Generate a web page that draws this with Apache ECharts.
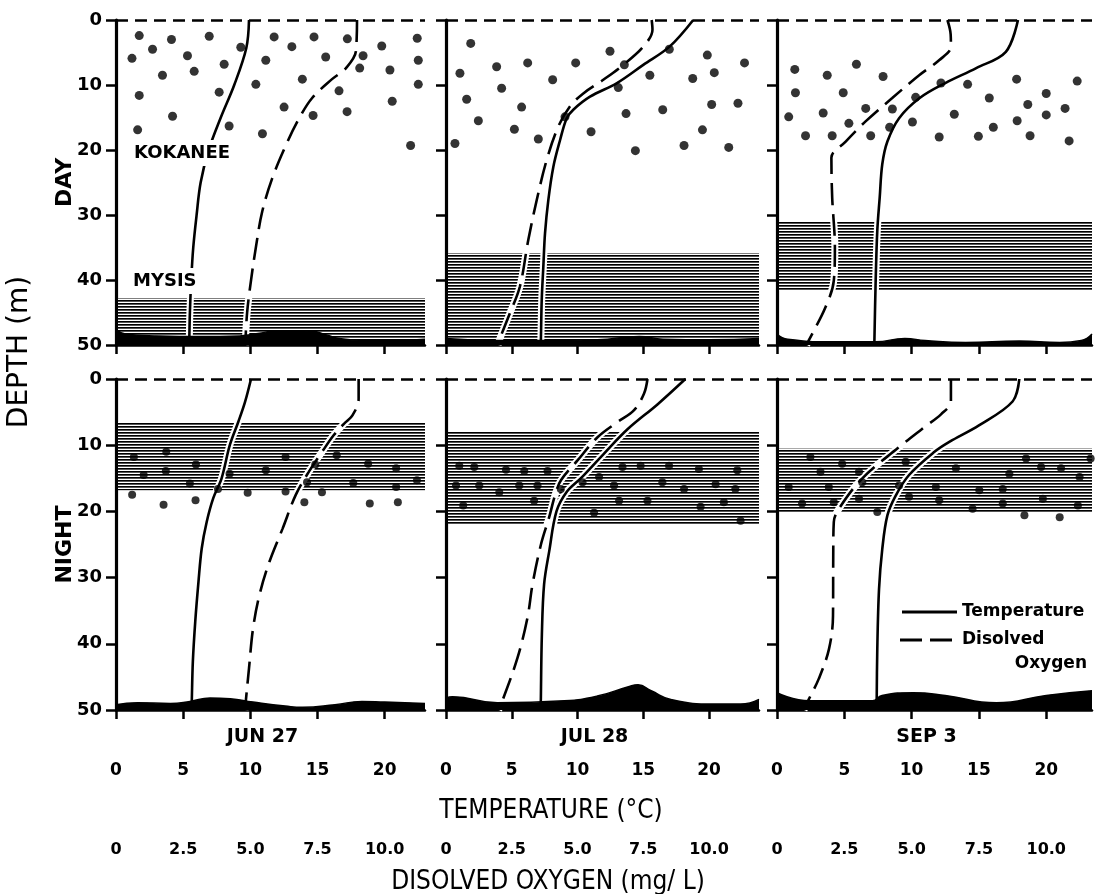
<!DOCTYPE html>
<html><head><meta charset="utf-8">
<script src="https://cdn.jsdelivr.net/npm/echarts@6/dist/echarts.min.js"></script>
<style>html,body{margin:0;padding:0;background:#fff}#c{width:1103px;height:894px}</style>
</head><body><div id="c"></div>
<script>
// ---------- tick labels / categories ----------
const tempTicks = [0, 5, 10, 15, 20];
const doTicks = [0, 2.5, 5, 7.5, 10];
const dateLabels = ['JUN 27', 'JUL 28', 'SEP 3'];
const rowLabels = ['DAY', 'NIGHT'];

// ---------- JUN 27 DAY ----------  [temperature or DO, depth]
const junDayTemp = [[9.9,0],[9.7,4.3],[8.8,10],[7.8,15],[6.9,20],[6.3,25],[6.0,30],[5.75,35],[5.6,40],[5.5,45],[5.45,50]];
const junDayDO = [[8.97,0],[8.93,4.8],[8.56,7.4],[8.04,9.1],[7.3,12],[6.82,15.1],[6.33,19.2],[5.81,24.4],[5.44,29.5],[5.22,34.6],[5.03,39.9],[4.88,45],[4.81,50]];
const junDayFish = [[1.73,2.4],[4.13,3.0],[6.94,2.5],[2.72,4.5],[1.19,5.9],[5.32,5.5],[9.29,4.2],[5.82,7.9],[8.05,6.8],[3.46,8.5],[1.73,11.6],[7.68,11.1],[4.21,14.8],[8.42,16.3],[1.61,16.9],[11.77,2.6],[13.09,4.1],[14.74,2.6],[17.22,2.9],[19.78,4.0],[22.42,2.8],[11.15,6.2],[15.61,5.7],[18.39,5.5],[18.14,7.4],[20.39,7.7],[22.5,6.2],[13.87,9.1],[10.41,9.9],[16.6,10.9],[22.5,9.9],[20.56,12.5],[12.51,13.4],[14.67,14.7],[17.2,14.1],[10.9,17.5],[21.93,19.3]];
const junDayMysis = [42.8, 50];
const junDaySed = [[0,47.6],[0.7,48.3],[3.2,48.6],[6.2,48.7],[9.2,48.6],[10.7,48.2],[11.9,47.8],[14.6,47.9],[15.6,48.4],[16.6,49.0],[18.6,49.3],[20.6,49.3],[23,49.1]];

// ---------- JUL 28 DAY ----------
const julDayTemp = [[18.8,0],[17.0,4.1],[15.0,6.9],[13.0,9.7],[10.95,11.8],[9.68,13.8],[9.18,15.1],[8.67,18.5],[8.16,22.6],[7.78,27.7],[7.53,32.8],[7.4,38],[7.28,43],[7.22,48.7],[7.2,50]];
const julDayDO = [[7.82,0],[7.85,1.5],[7.5,4.1],[6.74,6.9],[5.98,9.2],[5.22,11.3],[4.71,13.3],[4.27,16.4],[3.83,21.5],[3.45,27.7],[3.13,33.8],[2.81,41],[2.43,45.1],[2.05,49],[1.98,50]];
const julDayFish = [[1.88,3.6],[1.06,8.2],[3.85,7.2],[6.21,6.6],[9.86,6.6],[12.47,4.8],[13.56,6.9],[16.98,4.5],[19.87,5.4],[22.7,6.6],[20.4,8.1],[18.76,9.0],[15.5,8.5],[8.11,9.2],[4.23,10.5],[1.57,12.2],[5.75,13.4],[2.46,15.5],[9.05,14.9],[13.1,10.4],[13.69,14.4],[16.48,13.8],[20.2,13.0],[22.2,12.8],[5.2,16.8],[7.02,18.3],[11.03,17.2],[19.5,16.9],[0.68,19.0],[14.4,20.1],[18.1,19.3],[21.5,19.6]];
const julDayMysis = [35.9, 50];
const julDaySed = [[0,49.0],[4,49.3],[7.2,49.3],[11.5,49.2],[14.7,48.7],[16.5,49.1],[20,49.2],[23.8,49.0]];

// ---------- SEP 3 DAY ----------
const sepDayTemp = [[17.9,0],[17.0,4.9],[14.8,7.4],[12.5,9.7],[10.6,12.0],[9.07,15.1],[8.2,18.7],[7.82,22.2],[7.63,27.3],[7.45,32.4],[7.33,40.1],[7.23,50]];
const sepDayDO = [[6.33,0],[6.45,2.2],[6.46,4.1],[6.02,6.2],[5.28,8.5],[4.28,12.0],[3.29,15.6],[2.55,18.7],[2.02,21.2],[2.05,27.3],[2.15,35],[2.11,40.1],[1.8,44.2],[1.18,49.3],[1.1,50]];
const sepDayFish = [[1.32,7.6],[3.73,8.5],[5.9,6.8],[7.88,8.7],[1.37,11.2],[4.92,11.2],[0.87,14.9],[3.43,14.3],[5.34,15.9],[6.59,13.6],[8.57,13.7],[2.12,17.8],[4.1,17.8],[6.96,17.8],[8.37,16.5],[10.3,11.9],[10.06,15.7],[12.18,9.7],[14.16,9.9],[13.17,14.5],[12.05,18.0],[14.96,17.9],[15.77,12.0],[16.07,16.5],[17.8,9.1],[17.84,15.5],[18.63,13.0],[18.8,17.8],[20.0,11.3],[20.0,14.6],[21.4,13.6],[22.3,9.4],[21.7,18.6]];
const sepDayMysis = [31.0, 41.6];
const sepDaySed = [[0,48.3],[0.8,49.1],[4,49.5],[7.3,49.5],[9.5,49.0],[11,49.3],[14,49.6],[18,49.4],[21,49.6],[22.6,49.3],[23.4,48.3]];

// ---------- JUN 27 NIGHT ----------
const junNightTemp = [[10.05,0],[9.6,3.5],[9.1,6.5],[8.47,10],[7.86,15],[7.24,18],[6.75,21.6],[6.38,25.6],[6.14,30.6],[5.9,36.6],[5.72,42.7],[5.64,48.7],[5.62,50]];
const junNightDO = [[9.03,0],[9.03,3],[8.8,5.5],[8.5,6.7],[8.1,8.5],[7.72,10.7],[7.18,14],[6.69,17.5],[6.2,22.6],[5.71,27.6],[5.34,32.6],[5.1,37.7],[4.95,43.7],[4.83,48.7],[4.8,50]];
const junNightFish = [[1.33,11.8],[3.74,11.0],[5.95,12.9],[2.06,14.5],[3.71,13.9],[5.5,15.8],[1.2,17.5],[3.54,19.0],[5.92,18.3],[7.59,16.6],[9.8,17.2],[8.45,14.3],[12.62,11.8],[11.15,13.8],[12.62,17.0],[14.02,18.6],[14.22,15.6],[14.83,12.9],[15.33,17.1],[16.43,11.5],[17.66,15.7],[18.77,12.8],[18.89,18.8],[20.85,13.5],[20.85,16.3],[20.98,18.6],[22.4,15.3]];
const junNightMysis = [6.5, 16.8];
const junNightSed = [[0,49.2],[1.6,48.9],[4.05,49.0],[5.5,48.7],[7.0,48.2],[8.5,48.3],[10.2,48.8],[12.6,49.4],[13.9,49.6],[16.3,49.2],[18.3,48.7],[20.0,48.8],[23,49.0]];

// ---------- JUL 28 NIGHT ----------
const julNightTemp = [[18.2,0],[16.1,3.8],[13.8,7.6],[12.0,11.3],[10.3,14.9],[9.2,17],[8.4,20],[7.85,26],[7.46,31],[7.29,38.6],[7.21,48.7],[7.2,50]];
const julNightDO = [[7.66,0],[7.53,2.2],[7.15,4.7],[6.52,6.5],[5.76,8.8],[5.0,12.3],[4.37,15.3],[4.15,17.5],[3.92,20.9],[3.61,25],[3.29,31],[3.1,36],[2.72,42.1],[2.09,49.2],[2.0,50]];
const julNightFish = [[1.01,13.1],[2.15,13.3],[4.56,13.7],[5.95,13.9],[7.72,13.9],[0.76,16.1],[2.53,16.1],[4.05,17.1],[5.57,16.1],[6.96,16.1],[1.31,19.1],[6.7,18.4],[8.73,16.6],[10.38,15.6],[11.64,14.8],[11.26,20.2],[12.78,16.1],[13.16,18.4],[13.42,13.3],[14.8,13.1],[15.32,18.4],[16.45,15.6],[16.96,13.1],[18.1,16.6],[19.23,13.6],[19.36,19.3],[20.5,15.9],[21.13,18.6],[22.15,13.8],[22.0,16.6],[22.4,21.4]];
const julNightMysis = [8.0, 21.9];
const julNightSed = [[0,48.2],[0.5,48.0],[3.9,48.9],[9.0,48.6],[11.5,47.9],[14.0,46.4],[14.6,46.2],[15.6,47.1],[17.1,48.4],[20.4,49.1],[22.4,49.1],[23.8,48.4]];

// ---------- SEP 3 NIGHT ----------
const sepNightTemp = [[18.0,0],[17.5,3.4],[15.0,7.0],[12.8,9.5],[11.7,11.0],[9.81,14.5],[8.82,17.6],[8.2,20.6],[7.82,25.7],[7.58,31.7],[7.45,40.8],[7.4,50]];
const sepNightDO = [[6.46,0],[6.46,3.4],[6.1,5.3],[5.4,7.5],[4.5,10.4],[3.17,15.0],[2.3,19.6],[2.11,21.6],[2.09,25.7],[2.08,35.8],[1.93,40.8],[1.55,45.3],[1.18,48.4],[1.0,50]];
const sepNightFish = [[2.48,11.8],[4.84,12.8],[6.09,14.0],[3.23,14.0],[0.87,16.3],[3.85,16.3],[6.33,15.6],[1.86,18.8],[4.22,18.6],[6.09,18.1],[7.45,20.1],[9.07,16.1],[9.81,17.8],[11.8,16.3],[13.29,13.5],[12.05,18.3],[14.53,19.6],[15.03,16.8],[16.77,18.8],[17.26,14.3],[18.5,12.0],[19.62,13.3],[19.75,18.1],[21.1,13.5],[22.48,14.8],[18.38,20.6],[21.0,20.9],[22.35,19.1],[23.3,12.0],[9.56,12.5],[16.77,16.6]];
const sepNightMysis = [10.5, 20.1];
const sepNightSed = [[0,47.4],[2.4,48.6],[7.1,48.6],[7.8,47.8],[10.1,47.4],[12.5,47.8],[16.3,48.9],[20.0,47.8],[23.4,47.1]];

// ---------- assembly ----------
const panels = [
  {temp: junDayTemp, dox: junDayDO, fish: junDayFish, mysis: junDayMysis, sed: junDaySed},
  {temp: julDayTemp, dox: julDayDO, fish: julDayFish, mysis: julDayMysis, sed: julDaySed},
  {temp: sepDayTemp, dox: sepDayDO, fish: sepDayFish, mysis: sepDayMysis, sed: sepDaySed},
  {temp: junNightTemp, dox: junNightDO, fish: junNightFish, mysis: junNightMysis, sed: junNightSed},
  {temp: julNightTemp, dox: julNightDO, fish: julNightFish, mysis: julNightMysis, sed: julNightSed},
  {temp: sepNightTemp, dox: sepNightDO, fish: sepNightFish, mysis: sepNightMysis, sed: sepNightSed}
];

const cols = [{left:116, width:309, max:23}, {left:446, width:313, max:23.8}, {left:777, width:315, max:23.4}];
const rows = [{top:20, height:325, dot:9}, {top:379, height:331, dot:8}];

const FONT = '"DejaVu Sans", sans-serif';
const CFONT = '"DejaVu Sans Condensed", "Liberation Sans Narrow", "DejaVu Sans", sans-serif';

// horizontal-line hatch pattern for Mysis layer
const hatch = document.createElement('canvas');
hatch.width = 4; hatch.height = 3;
(function(){ const g = hatch.getContext('2d');
  g.fillStyle = '#fff'; g.fillRect(0,0,4,3);
  g.fillStyle = '#000'; g.fillRect(0,0,4,1);
  g.fillStyle = '#555'; g.fillRect(0,1,4,1); })();

const grid = [], xAxis = [], yAxis = [], series = [];
panels.forEach((p, i) => {
  const c = i % 3, r = Math.floor(i / 3);
  const col = cols[c], row = rows[r];
  grid.push({left: col.left, top: row.top, width: col.width, height: row.height});
  xAxis.push({
    gridIndex: i, type: 'value', min: 0, max: col.max,
    axisLine: {show: true, onZero: false, lineStyle: {color: '#000', width: 2.5}},
    axisTick: {show: true, customValues: tempTicks, length: 9, lineStyle: {color: '#000', width: 2.5}},
    axisLabel: {show: r === 1, customValues: tempTicks, margin: 52, color: '#000', fontFamily: FONT, fontWeight: 'bold', fontSize: 17},
    splitLine: {show: false},
    name: r === 1 ? dateLabels[c] : '', nameLocation: 'middle', nameGap: 18, nameMoveOverlap: false,
    nameTextStyle: {color: '#000', fontFamily: FONT, fontWeight: 'bold', fontSize: 19, padding: [0, 16, 0, 0]}
  });
  xAxis.push({
    gridIndex: i, type: 'value', min: 0, max: col.max / 2, position: 'bottom', offset: 123,
    show: r === 1,
    axisLine: {show: false, onZero: false}, axisTick: {show: false},
    axisLabel: {customValues: doTicks, margin: 9, color: '#000', fontFamily: FONT, fontWeight: 'bold', fontSize: 16,
      formatter: v => v === 0 ? '0' : v.toFixed(1)},
    splitLine: {show: false}
  });
  yAxis.push({
    gridIndex: i, type: 'value', inverse: true, min: 0, max: 50, interval: 10,
    axisLine: {show: true, onZero: false, lineStyle: {color: '#000', width: 3.2}},
    axisTick: {show: true, length: 10, lineStyle: {color: '#000', width: 2.5}},
    axisLabel: {show: c === 0, margin: 14, color: '#000', fontFamily: FONT, fontWeight: 'bold', fontSize: 18},
    splitLine: {show: false},
    name: c === 0 ? rowLabels[r] : '', nameLocation: 'middle', nameGap: 40, nameMoveOverlap: false,
    nameTextStyle: {color: '#000', fontFamily: FONT, fontWeight: 'bold', fontSize: 22}
  });
  const xT = 2 * i, xD = 2 * i + 1;
  // Mysis hatched layer
  series.push({
    type: 'custom', xAxisIndex: xT, yAxisIndex: i, silent: true, z: 1,
    data: [[0, p.mysis[0], p.mysis[1]]],
    encode: {x: 0, y: [1, 2]},
    renderItem: (params, api) => {
      const cs = params.coordSys;
      const y0 = api.coord([0, api.value(1)])[1];
      const y1 = api.coord([0, api.value(2)])[1];
      return {type: 'rect', shape: {x: cs.x + 2, y: y0, width: cs.width - 2, height: y1 - y0},
        style: {fill: {image: hatch, repeat: 'repeat'}}};
    }
  });
  // white halos under profiles
  series.push({type: 'line', xAxisIndex: xT, yAxisIndex: i, data: p.temp, smooth: 0.35, symbol: 'none', silent: true, clip: false, z: 2,
    lineStyle: {color: '#fff', width: 7}});
  series.push({type: 'line', xAxisIndex: xD, yAxisIndex: i, data: p.dox, smooth: 0.35, symbol: 'none', silent: true, clip: false, z: 2,
    lineStyle: {color: '#fff', width: 7}});
  // lake bottom sediment
  series.push({type: 'line', xAxisIndex: xT, yAxisIndex: i, data: p.sed, smooth: 0.5, symbol: 'none', silent: true, z: 3,
    lineStyle: {color: '#000', width: 1.5}, areaStyle: {color: '#000', opacity: 1, origin: 'end'}});
  // kokanee
  series.push({type: 'scatter', xAxisIndex: xT, yAxisIndex: i, data: p.fish, symbol: 'circle', symbolSize: row.dot, silent: true, z: 4,
    itemStyle: {color: '#000'}});
  // temperature
  series.push({type: 'line', name: 'Temperature', xAxisIndex: xT, yAxisIndex: i, data: p.temp, smooth: 0.35, symbol: 'none', silent: true, clip: false, z: 5,
    lineStyle: {color: '#000', width: 2.6},
    markLine: {symbol: 'none', silent: true, label: {show: false}, animation: false,
      lineStyle: {color: '#000', width: 2.6, type: [12, 7]}, data: [{yAxis: 0}]}});
  // dissolved oxygen
  series.push({type: 'line', name: 'Disolved Oxygen', xAxisIndex: xD, yAxisIndex: i, data: p.dox, smooth: 0.35, symbol: 'none', silent: true, clip: false, z: 5,
    lineStyle: {color: '#000', width: 2.6, type: [22, 9]}});
});

const graphic = [
  {type: 'text', x: 20, y: 352, rotation: Math.PI / 2, z: 100,
    style: {text: 'DEPTH (m)', fill: '#000', font: '28px ' + FONT, align: 'center', verticalAlign: 'middle'}},
  {type: 'text', x: 131, y: 153, z: 100,
    style: {text: 'KOKANEE', fill: '#000', font: 'bold 18px ' + FONT, align: 'left', verticalAlign: 'middle', backgroundColor: '#fff', padding: [4, 3]}},
  {type: 'text', x: 130, y: 281, z: 100,
    style: {text: 'MYSIS', fill: '#000', font: 'bold 18px ' + FONT, align: 'left', verticalAlign: 'middle', backgroundColor: '#fff', padding: [4, 3]}},
  {type: 'text', x: 551, y: 811, z: 100,
    style: {text: 'TEMPERATURE (°C)', fill: '#000', font: '26px ' + CFONT, align: 'center', verticalAlign: 'middle'}},
  {type: 'text', x: 548, y: 882, z: 100,
    style: {text: 'DISOLVED OXYGEN (mg/ L)', fill: '#000', font: '26px ' + CFONT, align: 'center', verticalAlign: 'middle'}},
  {type: 'line', z: 100, shape: {x1: 902, y1: 612, x2: 957, y2: 612}, style: {stroke: '#000', lineWidth: 3}},
  {type: 'text', x: 962, y: 612, z: 100,
    style: {text: 'Temperature', fill: '#000', font: 'bold 17px ' + FONT, align: 'left', verticalAlign: 'middle'}},
  {type: 'line', z: 100, shape: {x1: 900, y1: 640, x2: 957, y2: 640}, style: {stroke: '#000', lineWidth: 3, lineDash: [22, 8]}},
  {type: 'text', x: 962, y: 640, z: 100,
    style: {text: 'Disolved', fill: '#000', font: 'bold 17px ' + FONT, align: 'left', verticalAlign: 'middle'}},
  {type: 'text', x: 1087, y: 664, z: 100,
    style: {text: 'Oxygen', fill: '#000', font: 'bold 17px ' + FONT, align: 'right', verticalAlign: 'middle'}}
];

const chart = echarts.init(document.getElementById('c'), null, {renderer: 'canvas'});
chart.setOption({
  animation: false,
  backgroundColor: '#fff',
  grid, xAxis, yAxis, series, graphic
});
</script>
</body></html>
